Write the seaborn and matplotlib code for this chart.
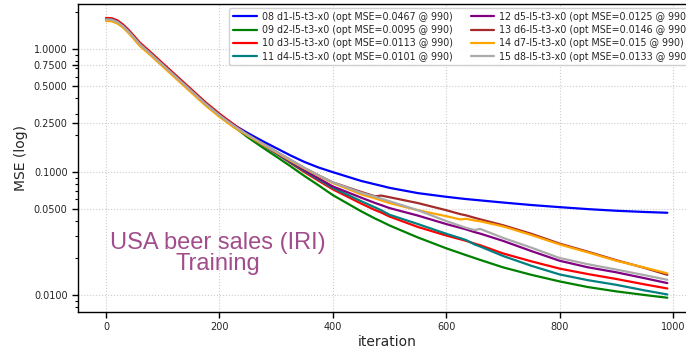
import numpy as np
import pandas as pd
import matplotlib
matplotlib.use("Agg")
import matplotlib.pyplot as plt
import matplotlib.ticker as mticker
import seaborn as sns

iterations = [0, 10, 20, 30, 40, 60, 80, 100, 125, 150, 175, 200, 225, 250, 275, 300,
              325, 350, 375, 400, 450, 475, 485, 500, 550, 600, 625, 635, 650, 660,
              700, 750, 800, 850, 900, 950, 990]

labels = [
    "08 d1-l5-t3-x0 (opt MSE=0.0467 @ 990)",
    "09 d2-l5-t3-x0 (opt MSE=0.0095 @ 990)",
    "10 d3-l5-t3-x0 (opt MSE=0.0113 @ 990)",
    "11 d4-l5-t3-x0 (opt MSE=0.0101 @ 990)",
    "12 d5-l5-t3-x0 (opt MSE=0.0125 @ 990)",
    "13 d6-l5-t3-x0 (opt MSE=0.0146 @ 990)",
    "14 d7-l5-t3-x0 (opt MSE=0.015 @ 990)",
    "15 d8-l5-t3-x0 (opt MSE=0.0133 @ 990)",
]
colors = ["#0000ff", "#008000", "#ff0000", "#008080", "#800080", "#a52a2a", "#ffa500", "#aaaaaa"]

mse_08 = [1.77, 1.76, 1.69, 1.56, 1.41, 1.105, 0.917, 0.754, 0.592, 0.464, 0.365, 0.294, 0.243,
          0.208, 0.180, 0.157, 0.137, 0.121, 0.109, 0.100, 0.0848, 0.0795, 0.0775, 0.0745, 0.0675,
          0.0630, 0.0611, 0.0604, 0.0595, 0.0589, 0.0566, 0.0540, 0.0519, 0.0500, 0.0485, 0.0474, 0.0467]
mse_09 = [1.74, 1.73, 1.66, 1.53, 1.39, 1.09, 0.903, 0.742, 0.583, 0.457, 0.359, 0.288, 0.236,
          0.192, 0.160, 0.134, 0.112, 0.093, 0.078, 0.065, 0.0480, 0.0418, 0.0398, 0.0368, 0.0294,
          0.0240, 0.0219, 0.0211, 0.0200, 0.0193, 0.0168, 0.0146, 0.0129, 0.0116, 0.0107, 0.0100, 0.0095]
mse_10 = [1.80, 1.79, 1.72, 1.59, 1.435, 1.13, 0.935, 0.769, 0.604, 0.474, 0.372, 0.299, 0.245,
          0.200, 0.168, 0.142, 0.119, 0.100, 0.085, 0.0725, 0.0555, 0.049, 0.047, 0.0435, 0.0358,
          0.0305, 0.0284, 0.0276, 0.0262, 0.0254, 0.0218, 0.0188, 0.0164, 0.0148, 0.0135, 0.0122, 0.0113]
mse_11 = [1.76, 1.75, 1.68, 1.55, 1.40, 1.10, 0.912, 0.75, 0.589, 0.462, 0.363, 0.292, 0.240,
          0.200, 0.168, 0.142, 0.120, 0.102, 0.087, 0.0745, 0.058, 0.0515, 0.049, 0.0450, 0.0378,
          0.0315, 0.0290, 0.0280, 0.0258, 0.0248, 0.0208, 0.0173, 0.0147, 0.0132, 0.0121, 0.0109, 0.0101]
mse_12 = [1.76, 1.75, 1.68, 1.55, 1.40, 1.10, 0.912, 0.75, 0.589, 0.462, 0.363, 0.292, 0.240,
          0.201, 0.170, 0.144, 0.122, 0.104, 0.089, 0.0765, 0.062, 0.056, 0.054, 0.0510, 0.0443,
          0.0378, 0.0352, 0.0342, 0.0325, 0.0316, 0.0276, 0.0228, 0.0190, 0.0168, 0.0153, 0.0137, 0.0125]
mse_13 = [1.76, 1.75, 1.68, 1.55, 1.40, 1.10, 0.912, 0.75, 0.589, 0.462, 0.363, 0.292, 0.240,
          0.202, 0.172, 0.147, 0.126, 0.108, 0.094, 0.0825, 0.069, 0.0635, 0.0645, 0.0625, 0.0560,
          0.0490, 0.0455, 0.0445, 0.0425, 0.0413, 0.0370, 0.0315, 0.0262, 0.0225, 0.0192, 0.0166, 0.0146]
mse_14 = [1.70, 1.69, 1.62, 1.50, 1.35, 1.06, 0.88, 0.724, 0.568, 0.446, 0.350, 0.282, 0.232,
          0.198, 0.169, 0.145, 0.124, 0.107, 0.093, 0.0815, 0.066, 0.061, 0.059, 0.0560, 0.0490,
          0.0438, 0.0412, 0.0417, 0.0404, 0.0398, 0.0362, 0.0308, 0.0258, 0.0222, 0.0190, 0.0167, 0.0150]
mse_15 = [1.75, 1.74, 1.67, 1.54, 1.39, 1.095, 0.907, 0.746, 0.586, 0.460, 0.361, 0.290, 0.239,
          0.201, 0.172, 0.147, 0.126, 0.108, 0.094, 0.0825, 0.068, 0.063, 0.061, 0.058, 0.049,
          0.0400, 0.0365, 0.0352, 0.0338, 0.0345, 0.0292, 0.0243, 0.0200, 0.0178, 0.0161, 0.0145, 0.0133]

series = [mse_08, mse_09, mse_10, mse_11, mse_12, mse_13, mse_14, mse_15]

yticks = [0.01, 0.05, 0.1, 0.25, 0.5, 0.75, 1.0]
xticks = [0, 200, 400, 600, 800, 1000]

df = pd.concat([pd.DataFrame({"iteration": iterations, "mse": s, "run": lab})
                for s, lab in zip(series, labels)], ignore_index=True)

sns.set_theme(style="ticks")
plt.rcParams["font.family"] = ["DejaVu Sans"]

fig = plt.figure(figsize=(6.86, 3.5), dpi=100)
ax = fig.add_axes([0.1137, 0.1094, 0.9000, 0.8792])

sns.lineplot(data=df, x="iteration", y="mse", hue="run", hue_order=labels,
             palette=dict(zip(labels, colors)), linewidth=1.6, ax=ax, legend=False,
             sort=False, estimator=None)

ax.set_yscale("log")
ax.set_xlim(-49.5, 1039.5)
ax.set_ylim(10 ** -2.136, 10 ** 0.3687)
ax.set_yticks(yticks)
ax.yaxis.set_major_formatter(mticker.FormatStrFormatter("%.4f"))
ax.yaxis.set_minor_locator(mticker.LogLocator(base=10, subs=np.arange(2, 10)))
ax.yaxis.set_minor_formatter(mticker.NullFormatter())
ax.set_xticks(xticks)

ax.tick_params(axis="both", which="major", labelsize=7, direction="out", length=4, width=1, color="black")
ax.tick_params(axis="y", which="minor", direction="out", length=2.5, width=0.8, color="black")
for sp in ax.spines.values():
    sp.set_color("black")
    sp.set_linewidth(1.0)

ax.grid(True, which="major", linestyle=":", color="#cccccc", linewidth=0.8)
ax.set_xlabel("iteration", fontsize=10, labelpad=2)
ax.set_ylabel("MSE (log)", fontsize=10)

handles = [plt.Line2D([], [], color=c, linewidth=1.6) for c in colors]
leg = ax.legend(handles, labels, ncol=2, loc="upper right", bbox_to_anchor=(1.004, 1.0),
                fontsize=6.85, handlelength=2.5, handletextpad=0.5, labelspacing=0.35,
                columnspacing=1.9, frameon=True, fancybox=True, framealpha=0.9,
                borderaxespad=0.4)
leg.get_frame().set_edgecolor("#cccccc")

ax.text(197, 0.0217, "USA beer sales (IRI)\nTraining", ha="center", va="center",
        multialignment="center", fontsize=17, color="#a24d8b",
        family=["Liberation Sans", "DejaVu Sans"], linespacing=0.95)

fig.savefig("out.png", dpi=100)
